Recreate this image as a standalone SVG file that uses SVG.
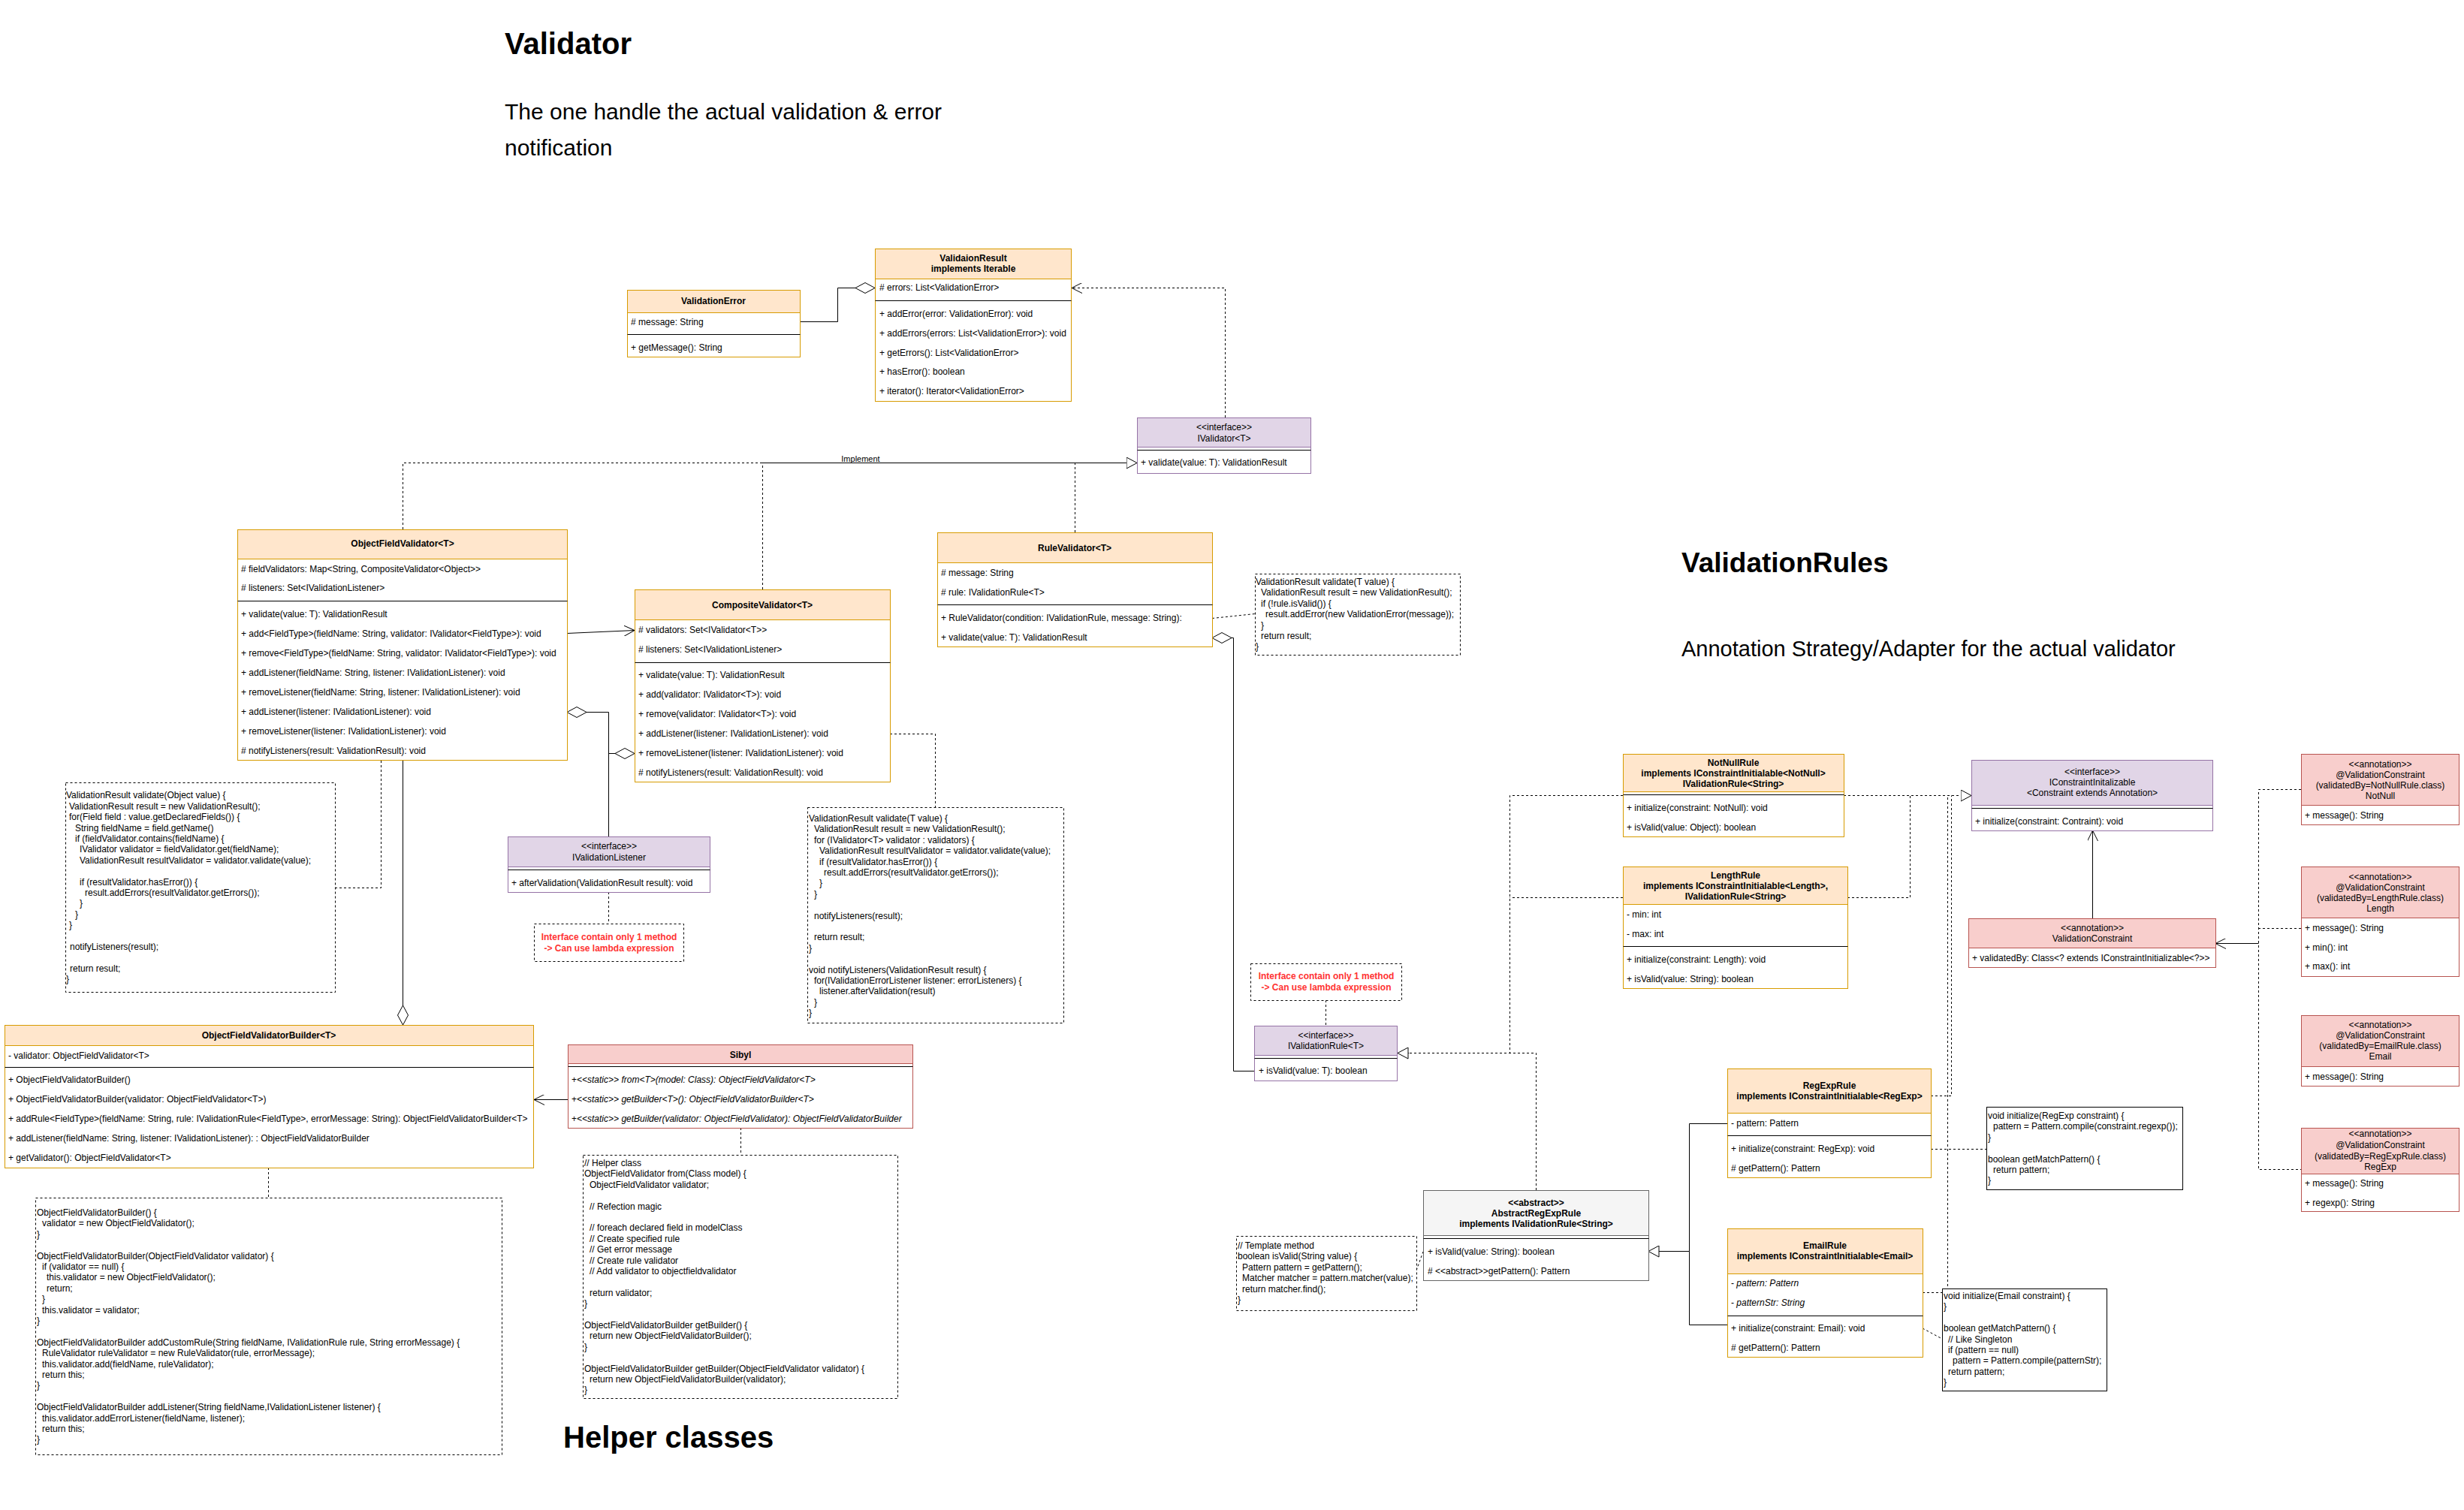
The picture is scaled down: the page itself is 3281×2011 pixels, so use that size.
<svg xmlns="http://www.w3.org/2000/svg" width="3281" height="2011" viewBox="0 0 3281 2011">
<defs>
<style>
text{font-family:'Liberation Sans',Arial,sans-serif;font-size:12px;fill:#000}
.b{font-weight:bold}
.c{text-anchor:middle}
.i{font-style:italic}
.red{fill:#ff3333;font-weight:bold}
.title{font-size:40px;font-weight:bold}
.title2{font-size:37px;font-weight:bold}
.sub{font-size:30px}
.sub2{font-size:29px}
.lbl{font-size:11px}
.cls-o{fill:#fff;stroke:#d79b00}.hd-o{fill:#ffe6cc;stroke:#d79b00}
.cls-p{fill:#fff;stroke:#9673a6}.hd-p{fill:#e1d5e7;stroke:#9673a6}
.cls-r{fill:#fff;stroke:#b85450}.hd-r{fill:#f8cecc;stroke:#b85450}
.cls-g{fill:#fff;stroke:#666}.hd-g{fill:#f5f5f5;stroke:#666}
.sep{stroke:#000;stroke-width:1}
.note{fill:#fff;stroke:#000;stroke-dasharray:3 3}
.box{fill:#fff;stroke:#000}
.edge{fill:none;stroke:#000;stroke-width:1}
.dash{stroke-dasharray:3 3}
</style>
<marker id="open" viewBox="0 0 14 14" refX="14" refY="7" markerWidth="14" markerHeight="14" markerUnits="userSpaceOnUse" orient="auto">
<path d="M0,0 L14,7 L0,14" fill="none" stroke="#000"/>
</marker>
<marker id="tri" viewBox="0 0 15 16" refX="14.5" refY="8" markerWidth="15" markerHeight="16" markerUnits="userSpaceOnUse" orient="auto">
<path d="M0.5,0.5 L14.5,8 L0.5,15.5 Z" fill="#fff" stroke="#000"/>
</marker>
<marker id="dia" viewBox="0 0 28 16" refX="0.5" refY="8" markerWidth="28" markerHeight="16" markerUnits="userSpaceOnUse" orient="auto">
<path d="M0.5,8 L13.5,1 L26.5,8 L13.5,15 Z" fill="#fff" stroke="#000"/>
</marker>
</defs>
<rect width="3281" height="2011" fill="#fff"/>

<!-- section titles -->
<g id="titles">
<text class="title" x="672" y="72">Validator</text>
<text class="sub" x="672" y="159">The one handle the actual validation &amp; error</text>
<text class="sub" x="672" y="207">notification</text>
<text class="title2" x="2239" y="762">ValidationRules</text>
<text class="sub2" x="2239" y="874">Annotation Strategy/Adapter for the actual validator</text>
<text class="title" x="750" y="1928">Helper classes</text>
</g>

<!-- connectors -->
<g id="connectors">
<path class="edge" d="M1165,383.5 H1115.5 V428.5 H1065" marker-start="url(#dia)"/>
<path class="edge dash" d="M1631.5,556 V383.5 H1427" marker-end="url(#open)"/>
<path class="edge dash" d="M536.5,705 V616.5 H1014"/>
<path class="edge dash" d="M1015.5,785 V616.5"/>
<path class="edge dash" d="M1431.5,709 V616.5"/>
<path class="edge" d="M1014,616.5 H1514" marker-end="url(#tri)"/>
<text class="lbl c" x="1146" y="615">Implement</text>
<path class="edge" d="M755,843.5 L845,839.5" marker-end="url(#open)"/>
<path class="edge" d="M755,948.5 H810.5 V1114" marker-start="url(#dia)"/>
<path class="edge" d="M845,1003.5 H810.5" marker-start="url(#dia)"/>
<path class="edge dash" d="M446,1182.5 H507.5 V1012"/>
<path class="edge dash" d="M1185,977.5 H1245.5 V1075"/>
<path class="edge dash" d="M1614,823.5 L1671,817.5"/>
<path class="edge" d="M1614,849.5 H1642.5 V1426.5 H1670" marker-start="url(#dia)"/>
<path class="edge" d="M536.5,1365 V1012" marker-start="url(#dia)"/>
<path class="edge" d="M756,1464.5 H711" marker-end="url(#open)"/>
<path class="edge dash" d="M986.5,1502 V1538"/>
<path class="edge dash" d="M357.5,1555 V1595"/>
<path class="edge dash" d="M810.5,1188 V1230"/>
<path class="edge dash" d="M1765.5,1332 V1366"/>
<path class="edge dash" d="M2161,1059.5 H2010.5 V1402.5 H1875"/>
<path class="edge dash" d="M2161,1195.5 H2010.5"/>
<path class="edge dash" d="M2045.5,1585 V1402.5 H1875"/>
<path class="edge" d="M1876,1402.5 H1861" marker-end="url(#tri)"/>
<path class="edge" d="M2300,1496.5 H2249.5 V1666.5 H2195" marker-end="url(#tri)"/>
<path class="edge" d="M2300,1764.5 H2249.5 V1666.5"/>
<path class="edge dash" d="M2455,1059.5 H2611"/>
<path class="edge dash" d="M2460,1195.5 H2543.5 V1059.5"/>
<path class="edge dash" d="M2571,1459.5 H2598.5 V1059.5"/>
<path class="edge dash" d="M2560,1721.5 H2593.5 V1059.5"/>
<path class="edge" d="M2612,1059.5 H2625" marker-end="url(#tri)"/>
<path class="edge dash" d="M2571,1530.5 H2645"/>
<path class="edge dash" d="M2560,1769 L2586,1783"/>
<path class="edge" d="M2786.5,1223 V1106" marker-end="url(#open)"/>
<path class="edge dash" d="M3064,1051.5 H3007.5 V1557.5 H3064"/>
<path class="edge dash" d="M3064,1236.5 H3007.5"/>
<path class="edge" d="M3007.5,1256.5 H2950" marker-end="url(#open)"/>
<path class="edge dash" d="M1886,1692 L1895,1667"/>
</g>

<!-- Validator package -->
<g id="validation-error">
<rect class="cls-o" x="835.5" y="386.5" width="230" height="89"/>
<rect class="hd-o" x="835.5" y="386.5" width="230" height="30"/>
<text class="b c" x="950" y="405">ValidationError</text>
<text x="840" y="433"># message: String</text>
<line class="sep" x1="835.5" y1="445.5" x2="1065.5" y2="445.5"/>
<text x="840" y="467">+ getMessage(): String</text>
</g>

<g id="validation-result">
<rect class="cls-o" x="1165.5" y="331.5" width="261" height="203"/>
<rect class="hd-o" x="1165.5" y="331.5" width="261" height="40"/>
<text class="b c" x="1296" y="348">ValidaionResult</text>
<text class="b c" x="1296" y="362">implements Iterable</text>
<text x="1171" y="387"># errors: List&lt;ValidationError&gt;</text>
<line class="sep" x1="1165.5" y1="400.5" x2="1426.5" y2="400.5"/>
<text x="1171" y="422">+ addError(error: ValidationError): void</text>
<text x="1171" y="448">+ addErrors(errors: List&lt;ValidationError&gt;): void</text>
<text x="1171" y="474">+ getErrors(): List&lt;ValidationError&gt;</text>
<text x="1171" y="499">+ hasError(): boolean</text>
<text x="1171" y="525">+ iterator(): Iterator&lt;ValidationError&gt;</text>
</g>

<g id="ivalidator">
<rect class="cls-p" x="1514.5" y="556.5" width="231" height="74"/>
<rect class="hd-p" x="1514.5" y="556.5" width="231" height="39"/>
<text class="c" x="1630" y="573">&lt;&lt;interface&gt;&gt;</text>
<text class="c" x="1630" y="587.5">IValidator&lt;T&gt;</text>
<line class="sep" x1="1514.5" y1="599.5" x2="1745.5" y2="599.5"/>
<text x="1519" y="620">+ validate(value: T): ValidationResult</text>
</g>

<g id="object-field-validator">
<rect class="cls-o" x="316.5" y="705.5" width="439" height="307"/>
<rect class="hd-o" x="316.5" y="705.5" width="439" height="39"/>
<text class="b c" x="536" y="728">ObjectFieldValidator&lt;T&gt;</text>
<text x="321" y="762"># fieldValidators: Map&lt;String, CompositeValidator&lt;Object&gt;&gt;</text>
<text x="321" y="787"># listeners: Set&lt;IValidationListener&gt;</text>
<line class="sep" x1="316.5" y1="800.5" x2="755.5" y2="800.5"/>
<text x="321" y="822">+ validate(value: T): ValidationResult</text>
<text x="321" y="848">+ add&lt;FieldType&gt;(fieldName: String, validator: IValidator&lt;FieldType&gt;): void</text>
<text x="321" y="874">+ remove&lt;FieldType&gt;(fieldName: String, validator: IValidator&lt;FieldType&gt;): void</text>
<text x="321" y="900">+ addListener(fieldName: String, listener: IValidationListener): void</text>
<text x="321" y="926">+ removeListener(fieldName: String, listener: IValidationListener): void</text>
<text x="321" y="952">+ addListener(listener: IValidationListener): void</text>
<text x="321" y="978">+ removeListener(listener: IValidationListener): void</text>
<text x="321" y="1004"># notifyListeners(result: ValidationResult): void</text>
</g>

<g id="composite-validator">
<rect class="cls-o" x="845.5" y="785.5" width="340" height="256"/>
<rect class="hd-o" x="845.5" y="785.5" width="340" height="40"/>
<text class="b c" x="1015" y="810">CompositeValidator&lt;T&gt;</text>
<text x="850" y="843"># validators: Set&lt;IValidator&lt;T&gt;&gt;</text>
<text x="850" y="869"># listeners: Set&lt;IValidationListener&gt;</text>
<line class="sep" x1="845.5" y1="882.5" x2="1185.5" y2="882.5"/>
<text x="850" y="903">+ validate(value: T): ValidationResult</text>
<text x="850" y="929">+ add(validator: IValidator&lt;T&gt;): void</text>
<text x="850" y="955">+ remove(validator: IValidator&lt;T&gt;): void</text>
<text x="850" y="981">+ addListener(listener: IValidationListener): void</text>
<text x="850" y="1007">+ removeListener(listener: IValidationListener): void</text>
<text x="850" y="1033"># notifyListeners(result: ValidationResult): void</text>
</g>

<g id="rule-validator">
<rect class="cls-o" x="1248.5" y="709.5" width="366" height="152"/>
<rect class="hd-o" x="1248.5" y="709.5" width="366" height="40"/>
<text class="b c" x="1431" y="734">RuleValidator&lt;T&gt;</text>
<text x="1253" y="767"># message: String</text>
<text x="1253" y="793"># rule: IValidationRule&lt;T&gt;</text>
<line class="sep" x1="1248.5" y1="805.5" x2="1614.5" y2="805.5"/>
<text x="1253" y="827">+ RuleValidator(condition: IValidationRule, message: String):</text>
<text x="1253" y="853">+ validate(value: T): ValidationResult</text>
</g>

<g id="rule-validator-note">
<rect class="note" x="1671.5" y="764.5" width="273" height="108"/>
<text>
<tspan x="1672" y="779">ValidationResult validate(T value) {</tspan>
<tspan x="1679" y="793.4">ValidationResult result = new ValidationResult();</tspan>
<tspan x="1679" y="807.8">if (!rule.isValid()) {</tspan>
<tspan x="1685" y="822.2">result.addError(new ValidationError(message));</tspan>
<tspan x="1679" y="836.6">}</tspan>
<tspan x="1679" y="851">return result;</tspan>
<tspan x="1672" y="865.4">}</tspan>
</text>
</g>

<g id="ivalidation-listener">
<rect class="cls-p" x="676.5" y="1114.5" width="269" height="74"/>
<rect class="hd-p" x="676.5" y="1114.5" width="269" height="40"/>
<text class="c" x="811" y="1131">&lt;&lt;interface&gt;&gt;</text>
<text class="c" x="811" y="1146">IValidationListener</text>
<line class="sep" x1="676.5" y1="1158.5" x2="945.5" y2="1158.5"/>
<text x="681" y="1180">+ afterValidation(ValidationResult result): void</text>
</g>

<g id="listener-note">
<rect class="note" x="711.5" y="1230.5" width="199" height="50"/>
<text class="red c" x="811" y="1252">Interface contain only 1 method</text>
<text class="red c" x="811" y="1267">-&gt; Can use lambda expression</text>
</g>

<g id="object-field-validator-note">
<rect class="note" x="87.5" y="1042.5" width="359" height="279"/>
<text>
<tspan x="88" y="1063.3">ValidationResult validate(Object value) {</tspan>
<tspan x="92" y="1077.7">ValidationResult result = new ValidationResult();</tspan>
<tspan x="92" y="1092.1">for(Field field : value.getDeclaredFields()) {</tspan>
<tspan x="100" y="1106.5">String fieldName = field.getName()</tspan>
<tspan x="100" y="1120.9">if (fieldValidator.contains(fieldName) {</tspan>
<tspan x="106" y="1135.3">IValidator validator = fieldValidator.get(fieldName);</tspan>
<tspan x="106" y="1149.7">ValidationResult resultValidator = validator.validate(value);</tspan>
<tspan x="106" y="1178.5">if (resultValidator.hasError()) {</tspan>
<tspan x="113" y="1192.9">result.addErrors(resultValidator.getErrors());</tspan>
<tspan x="106" y="1207.3">}</tspan>
<tspan x="100" y="1221.7">}</tspan>
<tspan x="92" y="1236.1">}</tspan>
<tspan x="93" y="1264.9">notifyListeners(result);</tspan>
<tspan x="93" y="1293.7">return result;</tspan>
<tspan x="88" y="1308.1">}</tspan>
</text>
</g>

<g id="composite-validator-note">
<rect class="note" x="1075.5" y="1075.5" width="341" height="287"/>
<text>
<tspan x="1077" y="1094">ValidationResult validate(T value) {</tspan>
<tspan x="1084" y="1108.4">ValidationResult result = new ValidationResult();</tspan>
<tspan x="1084" y="1122.8">for (IValidator&lt;T&gt; validator : validators) {</tspan>
<tspan x="1091" y="1137.2">ValidationResult resultValidator = validator.validate(value);</tspan>
<tspan x="1091" y="1151.6">if (resultValidator.hasError()) {</tspan>
<tspan x="1097" y="1166">result.addErrors(resultValidator.getErrors());</tspan>
<tspan x="1091" y="1180.4">}</tspan>
<tspan x="1084" y="1194.8">}</tspan>
<tspan x="1084" y="1223.6">notifyListeners(result);</tspan>
<tspan x="1084" y="1252.4">return result;</tspan>
<tspan x="1077" y="1266.8">}</tspan>
<tspan x="1077" y="1295.6">void notifyListeners(ValidationResult result) {</tspan>
<tspan x="1084" y="1310">for(IValidationErrorListener listener: errorListeners) {</tspan>
<tspan x="1091" y="1324.4">listener.afterValidation(result)</tspan>
<tspan x="1084" y="1338.8">}</tspan>
<tspan x="1077" y="1353.2">}</tspan>
</text>
</g>

<!-- Helper classes -->
<g id="object-field-validator-builder">
<rect class="cls-o" x="6.5" y="1365.5" width="704" height="190"/>
<rect class="hd-o" x="6.5" y="1365.5" width="704" height="27"/>
<text class="b c" x="358" y="1383">ObjectFieldValidatorBuilder&lt;T&gt;</text>
<text x="11" y="1410">- validator: ObjectFieldValidator&lt;T&gt;</text>
<line class="sep" x1="6.5" y1="1421.5" x2="710.5" y2="1421.5"/>
<text x="11" y="1442">+ ObjectFieldValidatorBuilder()</text>
<text x="11" y="1468">+ ObjectFieldValidatorBuilder(validator: ObjectFieldValidator&lt;T&gt;)</text>
<text x="11" y="1494">+ addRule&lt;FieldType&gt;(fieldName: String, rule: IValidationRule&lt;FieldType&gt;, errorMessage: String): ObjectFieldValidatorBuilder&lt;T&gt;</text>
<text x="11" y="1520">+ addListener(fieldName: String, listener: IValidationListener): : ObjectFieldValidatorBuilder</text>
<text x="11" y="1546">+ getValidator(): ObjectFieldValidator&lt;T&gt;</text>
</g>

<g id="sibyl">
<rect class="cls-r" x="756.5" y="1391.5" width="459" height="111"/>
<rect class="hd-r" x="756.5" y="1391.5" width="459" height="25"/>
<text class="b c" x="986" y="1409">Sibyl</text>
<line class="sep" x1="756.5" y1="1420.5" x2="1215.5" y2="1420.5"/>
<text x="761" y="1442">+<tspan class="i">&lt;&lt;static&gt;&gt; from&lt;T&gt;(model: Class): ObjectFieldValidator&lt;T&gt;</tspan></text>
<text x="761" y="1468">+<tspan class="i">&lt;&lt;static&gt;&gt; getBuilder&lt;T&gt;(): ObjectFieldValidatorBuilder&lt;T&gt;</tspan></text>
<text x="761" y="1494">+<tspan class="i">&lt;&lt;static&gt;&gt; getBuilder(validator: ObjectFieldValidator): ObjectFieldValidatorBuilder</tspan></text>
</g>

<g id="builder-note">
<rect class="note" x="47.5" y="1595.5" width="621" height="342"/>
<text>
<tspan x="49" y="1619">ObjectFieldValidatorBuilder() {</tspan>
<tspan x="56" y="1633.4">validator = new ObjectFieldValidator();</tspan>
<tspan x="49" y="1647.8">}</tspan>
<tspan x="49" y="1676.6">ObjectFieldValidatorBuilder(ObjectFieldValidator validator) {</tspan>
<tspan x="56" y="1691">if (validator == null) {</tspan>
<tspan x="62" y="1705.4">this.validator = new ObjectFieldValidator();</tspan>
<tspan x="62" y="1719.8">return;</tspan>
<tspan x="56" y="1734.2">}</tspan>
<tspan x="56" y="1748.6">this.validator = validator;</tspan>
<tspan x="49" y="1763">}</tspan>
<tspan x="49" y="1791.8">ObjectFieldValidatorBuilder addCustomRule(String fieldName, IValidationRule rule, String errorMessage) {</tspan>
<tspan x="56" y="1806.2">RuleValidator ruleValidator = new RuleValidator(rule, errorMessage);</tspan>
<tspan x="56" y="1820.6">this.validator.add(fieldName, ruleValidator);</tspan>
<tspan x="56" y="1835">return this;</tspan>
<tspan x="49" y="1849.4">}</tspan>
<tspan x="49" y="1878.2">ObjectFieldValidatorBuilder addListener(String fieldName,IValidationListener listener) {</tspan>
<tspan x="56" y="1892.6">this.validator.addErrorListener(fieldName, listener);</tspan>
<tspan x="56" y="1907">return this;</tspan>
<tspan x="49" y="1921.4">}</tspan>
</text>
</g>

<g id="sibyl-note">
<rect class="note" x="776.5" y="1538.5" width="419" height="324"/>
<text>
<tspan x="778" y="1553">// Helper class</tspan>
<tspan x="778" y="1567.4">ObjectFieldValidator from(Class model) {</tspan>
<tspan x="785" y="1581.8">ObjectFieldValidator validator;</tspan>
<tspan x="785" y="1610.6">// Refection magic</tspan>
<tspan x="785" y="1639.4">// foreach declared field in modelClass</tspan>
<tspan x="785" y="1653.8">// Create specified rule</tspan>
<tspan x="785" y="1668.2">// Get error message</tspan>
<tspan x="785" y="1682.6">// Create rule validator</tspan>
<tspan x="785" y="1697">// Add validator to objectfieldvalidator</tspan>
<tspan x="785" y="1725.8">return validator;</tspan>
<tspan x="778" y="1740.2">}</tspan>
<tspan x="778" y="1769">ObjectFieldValidatorBuilder getBuilder() {</tspan>
<tspan x="785" y="1783.4">return new ObjectFieldValidatorBuilder();</tspan>
<tspan x="778" y="1797.8">}</tspan>
<tspan x="778" y="1826.6">ObjectFieldValidatorBuilder getBuilder(ObjectFieldValidator validator) {</tspan>
<tspan x="785" y="1841">return new ObjectFieldValidatorBuilder(validator);</tspan>
<tspan x="778" y="1855.4">}</tspan>
</text>
</g>

<!-- Validation rules -->
<g id="ivalidation-rule-note">
<rect class="note" x="1665.5" y="1283.5" width="201" height="49"/>
<text class="red c" x="1766" y="1304">Interface contain only 1 method</text>
<text class="red c" x="1766" y="1319">-&gt; Can use lambda expression</text>
</g>

<g id="ivalidation-rule">
<rect class="cls-p" x="1670.5" y="1366.5" width="190" height="73"/>
<rect class="hd-p" x="1670.5" y="1366.5" width="190" height="39"/>
<text class="c" x="1765.5" y="1383">&lt;&lt;interface&gt;&gt;</text>
<text class="c" x="1765.5" y="1397">IValidationRule&lt;T&gt;</text>
<line class="sep" x1="1670.5" y1="1409.5" x2="1860.5" y2="1409.5"/>
<text x="1676" y="1430">+ isValid(value: T): boolean</text>
</g>

<g id="abstract-regexp-rule">
<rect class="cls-g" x="1895.5" y="1585.5" width="300" height="120"/>
<rect class="hd-g" x="1895.5" y="1585.5" width="300" height="60"/>
<text class="b c" x="2045.5" y="1606">&lt;&lt;abstract&gt;&gt;</text>
<text class="b c" x="2045.5" y="1620">AbstractRegExpRule</text>
<text class="b c" x="2045.5" y="1634">implements IValidationRule&lt;String&gt;</text>
<line class="sep" x1="1895.5" y1="1649.5" x2="2195.5" y2="1649.5"/>
<text x="1901" y="1671">+ isValid(value: String): boolean</text>
<text x="1901" y="1697"># &lt;&lt;abstract&gt;&gt;getPattern(): Pattern</text>
</g>

<g id="template-note">
<rect class="note" x="1646.5" y="1646.5" width="240" height="99"/>
<text>
<tspan x="1648" y="1663">// Template method</tspan>
<tspan x="1648" y="1677.4">boolean isValid(String value) {</tspan>
<tspan x="1654" y="1691.8">Pattern pattern = getPattern();</tspan>
<tspan x="1654" y="1706.2">Matcher matcher = pattern.matcher(value);</tspan>
<tspan x="1654" y="1720.6">return matcher.find();</tspan>
<tspan x="1648" y="1735">}</tspan>
</text>
</g>

<g id="not-null-rule">
<rect class="cls-o" x="2161.5" y="1004.5" width="294" height="110"/>
<rect class="hd-o" x="2161.5" y="1004.5" width="294" height="50"/>
<text class="b c" x="2308" y="1020">NotNullRule</text>
<text class="b c" x="2308" y="1034">implements IConstraintInitialable&lt;NotNull&gt;</text>
<text class="b c" x="2308" y="1048">IValidationRule&lt;String&gt;</text>
<line class="sep" x1="2161.5" y1="1058.5" x2="2455.5" y2="1058.5"/>
<text x="2166" y="1080">+ initialize(constraint: NotNull): void</text>
<text x="2166" y="1106">+ isValid(value: Object): boolean</text>
</g>

<g id="length-rule">
<rect class="cls-o" x="2161.5" y="1154.5" width="299" height="162"/>
<rect class="hd-o" x="2161.5" y="1154.5" width="299" height="50"/>
<text class="b c" x="2311" y="1170">LengthRule</text>
<text class="b c" x="2311" y="1184">implements IConstraintInitialable&lt;Length&gt;,</text>
<text class="b c" x="2311" y="1198">IValidationRule&lt;String&gt;</text>
<text x="2166" y="1222">- min: int</text>
<text x="2166" y="1248">- max: int</text>
<line class="sep" x1="2161.5" y1="1260.5" x2="2460.5" y2="1260.5"/>
<text x="2166" y="1282">+ initialize(constraint: Length): void</text>
<text x="2166" y="1308">+ isValid(value: String): boolean</text>
</g>

<g id="regexp-rule">
<rect class="cls-o" x="2300.5" y="1423.5" width="271" height="145"/>
<rect class="hd-o" x="2300.5" y="1423.5" width="271" height="59"/>
<text class="b c" x="2436" y="1450">RegExpRule</text>
<text class="b c" x="2436" y="1464">implements IConstraintInitialable&lt;RegExp&gt;</text>
<text x="2305" y="1500">- pattern: Pattern</text>
<line class="sep" x1="2300.5" y1="1512.5" x2="2571.5" y2="1512.5"/>
<text x="2305" y="1534">+ initialize(constraint: RegExp): void</text>
<text x="2305" y="1560"># getPattern(): Pattern</text>
</g>

<g id="regexp-note">
<rect class="box" x="2645.5" y="1474.5" width="261" height="110"/>
<text>
<tspan x="2647" y="1490">void initialize(RegExp constraint) {</tspan>
<tspan x="2654" y="1504.4">pattern = Pattern.compile(constraint.regexp());</tspan>
<tspan x="2647" y="1518.8">}</tspan>
<tspan x="2647" y="1547.6">boolean getMatchPattern() {</tspan>
<tspan x="2654" y="1562">return pattern;</tspan>
<tspan x="2647" y="1576.4">}</tspan>
</text>
</g>

<g id="email-rule">
<rect class="cls-o" x="2300.5" y="1636.5" width="260" height="171"/>
<rect class="hd-o" x="2300.5" y="1636.5" width="260" height="60"/>
<text class="b c" x="2430" y="1663">EmailRule</text>
<text class="b c" x="2430" y="1677">implements IConstraintInitialable&lt;Email&gt;</text>
<text x="2305" y="1713">- <tspan class="i">pattern: Pattern</tspan></text>
<text x="2305" y="1739">- <tspan class="i">patternStr: String</tspan></text>
<line class="sep" x1="2300.5" y1="1752.5" x2="2560.5" y2="1752.5"/>
<text x="2305" y="1773">+ initialize(constraint: Email): void</text>
<text x="2305" y="1799"># getPattern(): Pattern</text>
</g>

<g id="email-note">
<rect class="box" x="2586.5" y="1716.5" width="219" height="136"/>
<text>
<tspan x="2588" y="1730">void initialize(Email constraint) {</tspan>
<tspan x="2588" y="1744.4">}</tspan>
<tspan x="2588" y="1773.2">boolean getMatchPattern() {</tspan>
<tspan x="2594" y="1787.6">// Like Singleton</tspan>
<tspan x="2594" y="1802">if (pattern == null)</tspan>
<tspan x="2600" y="1816.4">pattern = Pattern.compile(patternStr);</tspan>
<tspan x="2594" y="1830.8">return pattern;</tspan>
<tspan x="2588" y="1845.2">}</tspan>
</text>
</g>

<g id="iconstraint-initializable">
<rect class="cls-p" x="2625.5" y="1012.5" width="321" height="94"/>
<rect class="hd-p" x="2625.5" y="1012.5" width="321" height="60"/>
<text class="c" x="2786" y="1032">&lt;&lt;interface&gt;&gt;</text>
<text class="c" x="2786" y="1046">IConstraintInitalizable</text>
<text class="c" x="2786" y="1060">&lt;Constraint extends Annotation&gt;</text>
<line class="sep" x1="2625.5" y1="1076.5" x2="2946.5" y2="1076.5"/>
<text x="2630" y="1098">+ initialize(constraint: Contraint): void</text>
</g>

<g id="validation-constraint">
<rect class="cls-r" x="2621.5" y="1223.5" width="329" height="65"/>
<rect class="hd-r" x="2621.5" y="1223.5" width="329" height="39"/>
<text class="c" x="2786" y="1240">&lt;&lt;annotation&gt;&gt;</text>
<text class="c" x="2786" y="1254">ValidationConstraint</text>
<text x="2626" y="1280">+ validatedBy: Class&lt;? extends IConstraintInitializable&lt;?&gt;&gt;</text>
</g>

<g id="notnull-annotation">
<rect class="cls-r" x="3064.5" y="1004.5" width="210" height="94"/>
<rect class="hd-r" x="3064.5" y="1004.5" width="210" height="68"/>
<text class="c" x="3169.5" y="1022">&lt;&lt;annotation&gt;&gt;</text>
<text class="c" x="3169.5" y="1036">@ValidationConstraint</text>
<text class="c" x="3169.5" y="1050">(validatedBy=NotNullRule.class)</text>
<text class="c" x="3169.5" y="1064">NotNull</text>
<text x="3069" y="1090">+ message(): String</text>
</g>

<g id="length-annotation">
<rect class="cls-r" x="3064.5" y="1154.5" width="210" height="146"/>
<rect class="hd-r" x="3064.5" y="1154.5" width="210" height="68"/>
<text class="c" x="3169.5" y="1172">&lt;&lt;annotation&gt;&gt;</text>
<text class="c" x="3169.5" y="1186">@ValidationConstraint</text>
<text class="c" x="3169.5" y="1200">(validatedBy=LengthRule.class)</text>
<text class="c" x="3169.5" y="1214">Length</text>
<text x="3069" y="1240">+ message(): String</text>
<text x="3069" y="1266">+ min(): int</text>
<text x="3069" y="1291">+ max(): int</text>
</g>

<g id="email-annotation">
<rect class="cls-r" x="3064.5" y="1352.5" width="210" height="94"/>
<rect class="hd-r" x="3064.5" y="1352.5" width="210" height="68"/>
<text class="c" x="3169.5" y="1369">&lt;&lt;annotation&gt;&gt;</text>
<text class="c" x="3169.5" y="1383">@ValidationConstraint</text>
<text class="c" x="3169.5" y="1397">(validatedBy=EmailRule.class)</text>
<text class="c" x="3169.5" y="1411">Email</text>
<text x="3069" y="1438">+ message(): String</text>
</g>

<g id="regexp-annotation">
<rect class="cls-r" x="3064.5" y="1502.5" width="210" height="111"/>
<rect class="hd-r" x="3064.5" y="1502.5" width="210" height="61"/>
<text class="c" x="3169.5" y="1514">&lt;&lt;annotation&gt;&gt;</text>
<text class="c" x="3169.5" y="1529">@ValidationConstraint</text>
<text class="c" x="3169.5" y="1544">(validatedBy=RegExpRule.class)</text>
<text class="c" x="3169.5" y="1558">RegExp</text>
<text x="3069" y="1580">+ message(): String</text>
<text x="3069" y="1606">+ regexp(): String</text>
</g>
</svg>
